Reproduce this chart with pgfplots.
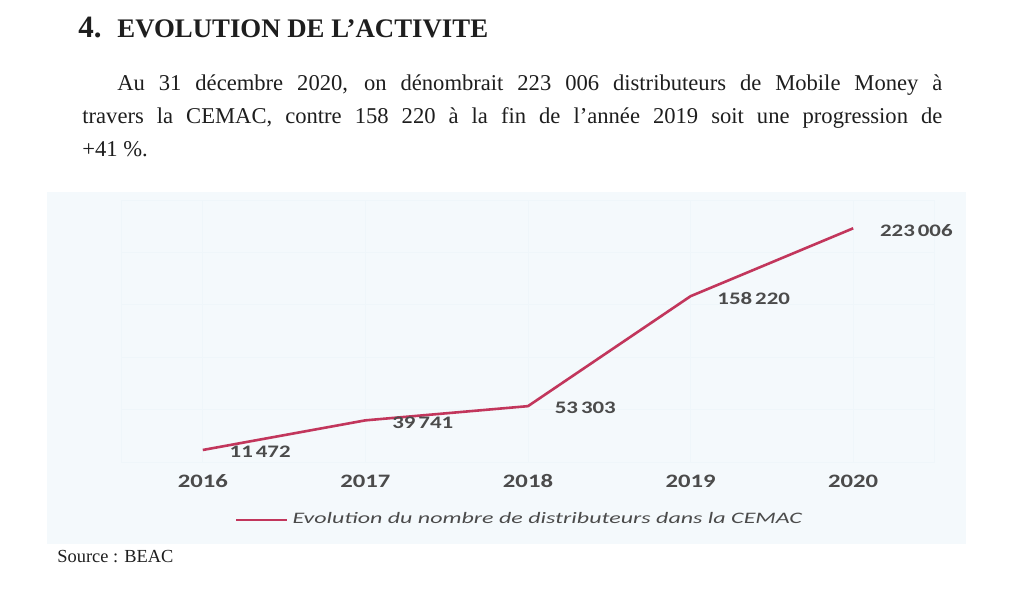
\documentclass[border=0pt]{standalone}
\usepackage{pgfplots}
\pgfplotsset{compat=1.18}
\usepackage{fontspec}
\setmainfont{Liberation Serif}
\newfontfamily\chartfont[FakeStretch=1.3]{Carlito}
\newfontfamily\legfont[FakeStretch=1.5]{Carlito}
\definecolor{linecol}{RGB}{194,54,92}
\definecolor{bgcol}{RGB}{244,249,252}
\definecolor{gridcol}{RGB}{239,246,250}
\definecolor{lblcol}{RGB}{75,75,75}
\definecolor{txtcol}{RGB}{30,30,30}
\begin{document}
\begin{tikzpicture}[x=0.5pt,y=-0.5pt]
\path[use as bounding box, fill=white] (0,0) rectangle (1024,600);
\fill[bgcol] (47,192) rectangle (966,544);
% header
\node[anchor=base west, inner sep=0pt, text=txtcol] at (78,37) {\fontsize{15.5}{18}\selectfont\bfseries 4.};
\node[anchor=base west, inner sep=0pt, text=txtcol] at (117,37) {\fontsize{13.4}{16}\selectfont\bfseries EVOLUTION DE L’ACTIVITE};
% body
\node[anchor=base west, inner sep=0pt, text=txtcol] at (117,90) {\fontsize{11.3}{14}\selectfont\makebox[412.5pt][s]{Au 31 décembre 2020, on dénombrait 223 006 distributeurs de Mobile Money à}};
\node[anchor=base west, inner sep=0pt, text=txtcol] at (82,123) {\fontsize{11.3}{14}\selectfont\makebox[430pt][s]{travers la CEMAC, contre 158 220 à la fin de l’année 2019 soit une progression de}};
\node[anchor=base west, inner sep=0pt, text=txtcol] at (82,156) {\fontsize{11.3}{14}\selectfont +41 \%.};
% source
\node[anchor=base west, inner sep=0pt, text=txtcol] at (57,562) {\fontsize{9.2}{11}\selectfont Source : BEAC};
\begin{axis}[
  at={(60.75pt,-231pt)}, anchor=south west,
  scale only axis, width=406.5pt, height=131pt,
  xmin=-0.5, xmax=4.5, ymin=0, ymax=250000,
  scaled y ticks=false,
  axis line style={draw=gridcol},
  xtick={0,1,2,3,4}, xticklabels={2016,2017,2018,2019,2020},
  ytick={0,50000,100000,150000,200000,250000}, yticklabels={},
  grid=major, grid style={gridcol, line width=0.4pt},
  major tick style={draw=none},
  xticklabel style={anchor=center, yshift=-9.5pt, text=lblcol, font=\chartfont\bfseries\fontsize{9.5}{11}\selectfont},
  point meta=explicit symbolic,
  nodes near coords,
  every node near coord/.append style={anchor=west, xshift=12.8pt, yshift=-1pt, inner sep=0pt, text=lblcol, font=\chartfont\bfseries\fontsize{8.8}{10}\selectfont},
  legend style={at={(rel axis cs:0.139,-0.221)}, anchor=west, draw=none, fill=none, inner sep=0pt,
    font=\legfont\itshape\fontsize{8}{9}\selectfont, text=lblcol},
  legend image code/.code={\draw[#1] (0pt,0pt) -- (25.5pt,0pt);},
]
\addplot[color=linecol, line width=1.3pt] coordinates {
  (0,11472) [11\,472]
  (1,39741) [39\,741]
  (2,53303) [53\,303]
  (3,158220) [158\,220]
  (4,223006) [223\,006]
};
\addlegendentry{Evolution du nombre de distributeurs dans la CEMAC}
\end{axis}
\end{tikzpicture}
\end{document}
